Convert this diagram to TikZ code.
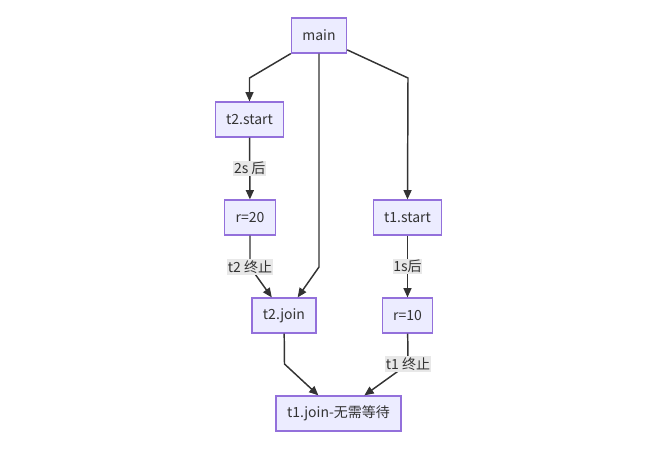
\documentclass[tikz,border=0pt]{standalone}
\usepackage{fontspec}
\usepackage{tikz}
\usetikzlibrary{ % tikz packages
    arrows.meta,positioning
}
\newfontfamily\cjk{Noto Sans CJK SC}
\definecolor{boxfill}{HTML}{ECECFF}
\definecolor{boxline}{HTML}{9370DB}
\definecolor{edgecol}{HTML}{333333}
\definecolor{lblfill}{HTML}{E8E8E8}
\tikzset{
    box/.style={draw=boxline, fill=boxfill, line width=0.9pt,
        minimum height=26.25pt, inner xsep=8.25pt, text=edgecol,
        font=\cjk\fontsize{10.5}{12}\selectfont},
    lbl/.style={fill=lblfill, inner xsep=0.5pt, inner ysep=1pt, text=edgecol,
        font=\cjk\fontsize{10.5}{12}\selectfont},
    flow/.style={draw=edgecol, line width=1.1pt,
        -{Triangle[length=7pt,width=6pt]}}
}

\begin{document}
\begin{tikzpicture}[x=0.75pt,y=-0.75pt]
        \useasboundingbox (0,0) rectangle (647,454);

        \node[box] (main) at (319,35.5) {main};
        \node[box] (t2start) at (249.5,119.5) {t2.start};
        \node[box] (r20) at (250,217.5) {r=20};
        \node[box] (t1start) at (407.5,217.5) {t1.start};
        \node[box] (t2join) at (284,315.5) {t2.join};
        \node[box] (r10) at (407.5,315.5) {r=10};
        \node[box] (t1join) at (338.5,413.5) {t1.join-无需等待};

        % bend points
        \coordinate (k1) at (249.5,78);
        \coordinate (k2) at (408,78);
        \coordinate (k3) at (319,267);
        \coordinate (k4) at (250,267);
        \coordinate (k5) at (284.5,364);
        \coordinate (k6) at (408,364);

        \draw[flow] (main.south west) -- (k1) -- (t2start.north);
        \draw[flow] (main.-27) -- (k2) -- (t1start.north);
        \draw[flow] (main.south) -- (k3) -- (t2join.53);
        \draw[flow] (t2start) -- node[lbl] {2s 后} (r20);
        \draw[flow] (r20) -- (k4) node[lbl] {t2 终止} -- (t2join.124);
        \draw[flow] (t1start) -- node[lbl] {1s后} (r10);
        \draw[flow] (t2join) -- (k5) -- (t1join.138);
        \draw[flow] (r10) -- (k6) node[lbl] {t1 终止} -- (t1join.35);
    \end{tikzpicture}
\end{document}
